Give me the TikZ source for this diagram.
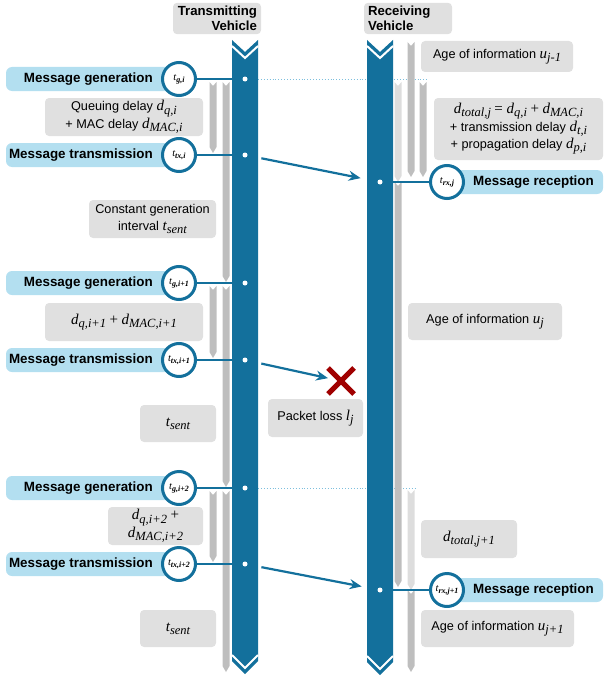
\documentclass[tikz,border=0pt]{standalone}
\usepackage{fontspec}
\setmainfont{Liberation Sans}
\newfontfamily\varfont{Liberation Serif}
\usepackage{tikz}
\usetikzlibrary{shapes,arrows,positioning,calc,arrows.meta}

\definecolor{barblue}{HTML}{13709C}
\definecolor{pillblue}{HTML}{B3DFF0}
\definecolor{boxgray}{HTML}{E0E0E0}
\definecolor{midgray}{HTML}{BEBEBE}
\definecolor{litegray}{HTML}{DDDDDD}
\definecolor{lossred}{HTML}{A00000}
\definecolor{dotblue}{HTML}{7DBFDD}

% italic variable with subscript
\newcommand{\tvar}[2]{{\varfont\itshape\fontsize{15}{15}\selectfont #1\raisebox{-0.45ex}{\fontsize{12.5}{12.5}\selectfont #2}}}
% time stamp inside event circle
\newcommand{\tlab}[1]{{\varfont\itshape\fontsize{10.5}{10}\selectfont t\raisebox{-0.4ex}{\fontsize{8}{8}\selectfont\bfseries #1}}}
% vehicle time line: x, top, bottom
\newcommand{\lifeline}[3]{%
  \fill[barblue] (#1-13,#2) -- (#1,#2+12) -- (#1+13,#2) -- (#1+13,#3-13) -- (#1,#3) -- (#1-13,#3-13) -- cycle;
  \draw[white, line width=2pt] (#1-13,#2+6) -- (#1,#2+18) -- (#1+13,#2+6);
  \draw[white, line width=2pt] (#1-13,#3-19) -- (#1,#3-6) -- (#1+13,#3-19);
}
% grey time span: x, top, bottom, colour
\newcommand{\gspan}[4]{%
  \fill[#4] (#1-3.5,#2) -- (#1,#2+4) -- (#1+3.5,#2) -- (#1+3.5,#3-6) -- (#1,#3) -- (#1-3.5,#3-6) -- cycle;
}

\begin{document}
\begin{tikzpicture}[x=1pt, y=-1pt,
    evt/.style={circle, draw=barblue, line width=3pt, fill=white, minimum size=33pt, inner sep=0pt},
    lbl/.style={font=\fontsize{13.4}{15}\selectfont\bfseries, inner sep=0pt},
    info/.style={fill=boxgray, rounded corners=4pt, align=center, inner sep=2pt, font=\fontsize{12.7}{17.5}\selectfont},
    vehbox/.style={fill=boxgray, rounded corners=4pt, inner xsep=4pt, text width=80pt, minimum height=31pt, font=\fontsize{13.2}{15}\selectfont\bfseries},
    dot/.style={circle, fill=white, minimum size=5pt, inner sep=0pt},
    link/.style={barblue, line width=2pt},
    msg/.style={barblue, line width=2.2pt, -{Stealth[length=12pt, width=10pt]}},
    sync/.style={dotblue, line width=0.9pt, dotted}]
  \useasboundingbox (0,0) rectangle (603,677);

  % vehicles
  \node[vehbox, align=right] (txveh) at (217,18.5) {Transmitting\\Vehicle};
  \node[vehbox, align=left] (rxveh) at (408,18.5) {Receiving\\Vehicle};

  % generation instants seen from the receiver
  \coordinate (sa1) at (258,79);  \coordinate (sb1) at (428,79);
  \coordinate (sa2) at (258,488); \coordinate (sb2) at (415,488);
  \draw[sync] (sa1) -- (sb1);
  \draw[sync] (sa2) -- (sb2);

  \lifeline{245}{40}{674}
  \lifeline{380}{40}{675}

  % time spans
  \foreach \x/\a/\b/\col in {213/82/153/midgray, 226/82/282/midgray, 213/286/358/midgray,
      226/286/487/midgray, 213/491/562/midgray, 226/491/672/midgray,
      411/42/177/midgray, 398/82/182/litegray, 423/82/177/midgray, 398/182/587/midgray,
      411/490/590/litegray, 411/590/672/midgray} {
    \gspan{\x}{\a}{\b}{\col}
  }

  % events at the transmitter
  \foreach \y/\txt/\sb/\nm in {79/Message generation/{g,i}/gi, 155/Message transmission/{tx,i}/xi,
      283/Message generation/{g,i+1}/gj, 360/Message transmission/{tx,i+1}/xj,
      488/Message generation/{g,i+2}/gk, 564/Message transmission/{tx,i+2}/xk} {
    \fill[pillblue, rounded corners=6pt] (6,\y-12) rectangle (179,\y+12);
    \node[lbl, anchor=east] (\nm-l) at (153,\y) {\txt};
    \node[evt] (\nm) at (179,\y) {\tlab{\sb}};
    \node[dot] (\nm-d) at (245,\y) {};
    \draw[link] (\nm) -- (\nm-d);
  }

  % events at the receiver
  \foreach \y/\sb/\nm in {182/{rx,j}/rj, 590/{rx,j+1}/rk} {
    \node[dot] (\nm-d) at (380,\y) {};
    \fill[pillblue, rounded corners=6pt] (447,\y-12) rectangle (603,\y+12);
    \node[evt] (\nm) at (447,\y) {\tlab{\sb}};
    \node[lbl, anchor=west] (\nm-l) at (473,\y) {Message reception};
    \draw[link] (\nm-d) -- (\nm);
  }

  % messages
  \node[cross out, draw=lossred, line width=5pt, minimum size=21pt, inner sep=0pt] (loss) at (341,381) {};
  \draw[msg, shorten <=14pt, shorten >=17pt] (xi-d) -- (rj-d);
  \draw[msg, shorten <=14pt] (xj-d) -- (loss);
  \draw[msg, shorten <=14pt, shorten >=16pt] (xk-d) -- (rk-d);

  % delays and intervals
  \node[info, minimum width=158pt, minimum height=38pt] (qd1) at (124,117) {Queuing delay \tvar{d}{q,i}\\+ MAC delay \tvar{d}{MAC,i}};
  \node[info, minimum width=127pt, minimum height=38pt] (gen) at (152.5,219) {Constant generation\\interval \tvar{t}{sent}};
  \node[info, minimum width=158pt, minimum height=38pt] (qd2) at (124,322) {\tvar{d}{q,i+1} {\varfont\fontsize{15}{15}\selectfont+} \tvar{d}{MAC,i+1}};
  \node[info, minimum width=76pt, minimum height=37pt] (ts2) at (178,423.5) {\tvar{t}{sent}};
  \node[info, minimum width=95pt, minimum height=38pt] (qd3) at (155.5,526) {\tvar{d}{q,i+2} {\varfont\fontsize{15}{15}\selectfont+}\\\tvar{d}{MAC,i+2}};
  \node[info, minimum width=76pt, minimum height=37pt] (ts3) at (178,628.5) {\tvar{t}{sent}};
  \node[info, minimum width=95pt, minimum height=38pt] (pl) at (315.5,418) {Packet loss \tvar{l}{j}};

  % receiver side
  \node[info, minimum width=152pt, minimum height=31pt] (aoi0) at (497,56.5) {Age of information \tvar{u}{j-1}};
  \node[info, minimum width=169pt, minimum height=62pt] (dt1) at (518.5,129) {\tvar{d}{total,j} {\varfont\fontsize{15}{15}\selectfont= }\tvar{d}{q,i} {\varfont\fontsize{15}{15}\selectfont+} \tvar{d}{MAC,i}\\+ transmission delay \tvar{d}{t,i}\\+ propagation delay \tvar{d}{p,i}};
  \node[info, minimum width=154pt, minimum height=37pt] (aoi1) at (485,321.5) {Age of information \tvar{u}{j}};
  \node[info, minimum width=96pt, minimum height=38pt] (dt2) at (469,539) {\tvar{d}{total,j+1}};
  \node[info, minimum width=153pt, minimum height=37pt] (aoi2) at (497.5,628.5) {Age of information \tvar{u}{j+1}};
\end{tikzpicture}
\end{document}
